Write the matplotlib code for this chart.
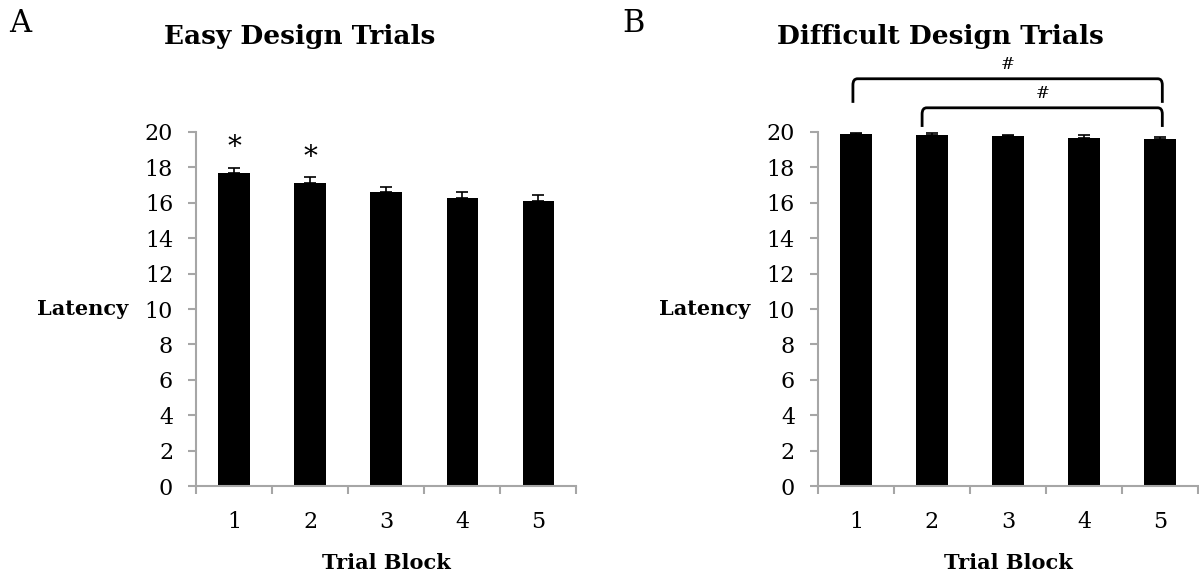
import matplotlib.pyplot as plt
from matplotlib.path import Path
from matplotlib.patches import PathPatch

plt.rcParams["font.family"] = ["DejaVu Serif"]

blocks = [1, 2, 3, 4, 5]
easy_latency = [17.68, 17.12, 16.6, 16.25, 16.1]
easy_err = [0.3, 0.34, 0.3, 0.35, 0.35]
hard_latency = [19.9, 19.83, 19.76, 19.68, 19.58]
hard_err = [0.06, 0.1, 0.08, 0.13, 0.14]
easy_stars = [1, 2]

fig = plt.figure(figsize=(11.99, 5.76), dpi=100)
ax_a = fig.add_axes([0.1635, 0.156, 0.317, 0.615])
ax_b = fig.add_axes([0.6822, 0.156, 0.317, 0.615])

gray = "#a6a6a6"


def style_axis(ax, vals, errs):
    ax.bar(blocks, vals, width=0.41, color="black", zorder=2)
    ax.errorbar(blocks, vals, yerr=[[0] * len(errs), errs], fmt="none",
                ecolor="black", elinewidth=1.2, capsize=4, capthick=1.2, zorder=3)
    ax.set_xlim(0.5, 5.5)
    ax.set_ylim(0, 20)
    ax.set_yticks(range(0, 21, 2))
    ax.set_xticks(blocks)
    ax.set_xticks([0.5, 1.5, 2.5, 3.5, 4.5, 5.5], minor=True)
    for s in ["top", "right"]:
        ax.spines[s].set_visible(False)
    for s in ["left", "bottom"]:
        ax.spines[s].set_color(gray)
        ax.spines[s].set_linewidth(1.5)
    ax.tick_params(axis="y", colors=gray, labelcolor="black", length=5.5,
                   width=1.5, labelsize=16, pad=11)
    ax.tick_params(axis="x", which="major", length=0, labelsize=16, pad=18)
    ax.tick_params(axis="x", which="minor", colors=gray, length=5.5, width=1.5)
    ax.set_xlabel("Trial Block", fontsize=15, fontweight="bold", labelpad=14)
    ax.set_ylabel("Latency", fontsize=15, fontweight="bold", rotation=0,
                  ha="right", va="center", labelpad=12)


style_axis(ax_a, easy_latency, easy_err)
style_axis(ax_b, hard_latency, hard_err)

for b in easy_stars:
    ax_a.text(b, easy_latency[b - 1] + easy_err[b - 1] + 0.35, "*",
              ha="center", va="bottom", fontsize=20)


def bracket(ax, x0, x1, top, bottom, label):
    r = 0.35
    verts = [(x0, bottom), (x0, top - r), (x0, top), (x0 + 0.06, top),
             (x1 - 0.06, top), (x1, top), (x1, top - r), (x1, bottom)]
    codes = [Path.MOVETO, Path.LINETO, Path.CURVE3, Path.CURVE3,
             Path.LINETO, Path.CURVE3, Path.CURVE3, Path.LINETO]
    ax.add_patch(PathPatch(Path(verts, codes), fill=False, lw=2,
                           edgecolor="black", clip_on=False))
    ax.text((x0 + x1) / 2, top + 0.35, label, ha="center", va="bottom",
            fontsize=12)


bracket(ax_b, 0.96, 5.03, 23.0, 21.64, "#")
bracket(ax_b, 1.87, 5.03, 21.36, 20.28, "#")

fig.text(0.25, 0.937, "Easy Design Trials", ha="center", va="center",
         fontsize=19, fontweight="bold")
fig.text(0.784, 0.937, "Difficult Design Trials", ha="center", va="center",
         fontsize=19, fontweight="bold")
fig.text(0.017, 0.96, "A", ha="center", va="center", fontsize=22)
fig.text(0.528, 0.96, "B", ha="center", va="center", fontsize=22)

fig.savefig("out.png", dpi=100)
